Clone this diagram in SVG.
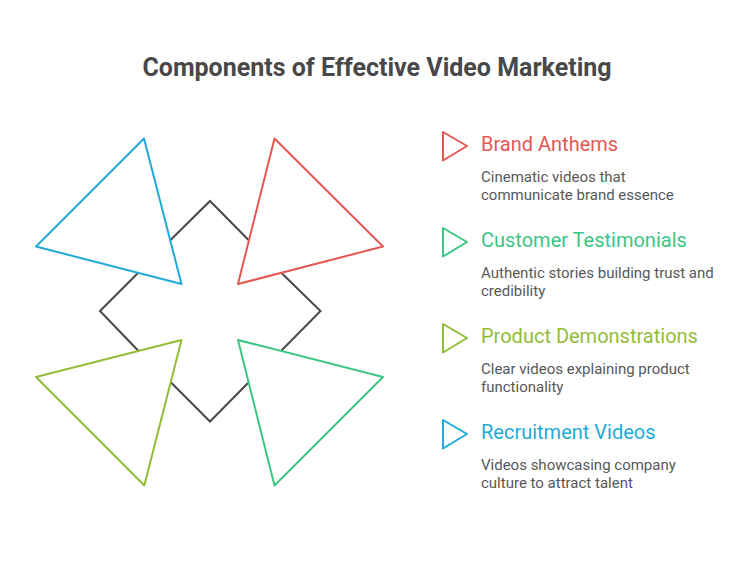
<svg xmlns="http://www.w3.org/2000/svg" width="754" height="564" viewBox="0 0 754 564">
<style>
text{font-family:Roboto,"Liberation Sans",sans-serif}
.t{font-size:20px;font-weight:400}
.d{font-size:15px;fill:#585858}
.tri{fill:none;stroke-width:2;stroke-linejoin:round}
.red{stroke:#e55753}
.grn{stroke:#3cc583}
.olv{stroke:#92bd39}
.blu{stroke:#1eabda}
</style>
<rect width="754" height="564" fill="#fff"/>
<text x="377" y="75.500" text-anchor="middle" font-size="25" font-weight="700" fill="#484848">Components of Effective Video Marketing</text>
<g id="connectors">
<path d="M170 240.500L210 201L248.500 240M281 272.500L320.500 311L281 351M248 383L210 421.500L170.500 382M138.500 351L100 311L138.500 272.500" fill="none" stroke="#484848" stroke-width="2"/>
</g>
<g id="triangle-blue"><path class="tri blu" d="M144 138.500L36 246.500L181.500 284Z"/></g>
<g id="triangle-red"><path class="tri red" d="M274.500 138.500L383 246.500L238 284Z"/></g>
<g id="triangle-olive"><path class="tri olv" d="M36 377L181.500 340L144.300 485.500Z"/></g>
<g id="triangle-green"><path class="tri grn" d="M238 340L383 377L274.500 485.500Z"/></g>
<g id="brand-anthems"><path class="tri red" d="M443 132L467 146L443 160.500Z"/><text class="t" x="481" y="151" fill="#e55753">Brand Anthems</text><text class="d" x="481" y="182">Cinematic videos that</text><text class="d" x="481" y="200">communicate brand essence</text></g>
<g id="customer-testimonials"><path class="tri grn" d="M443 228L467 242L443 256.500Z"/><text class="t" x="481" y="247" fill="#3cc583">Customer Testimonials</text><text class="d" x="481" y="278">Authentic stories building trust and</text><text class="d" x="481" y="296">credibility</text></g>
<g id="product-demonstrations"><path class="tri olv" d="M443 324L467 338L443 352.500Z"/><text class="t" x="481" y="343" fill="#92bd39">Product Demonstrations</text><text class="d" x="481" y="374">Clear videos explaining product</text><text class="d" x="481" y="392">functionality</text></g>
<g id="recruitment-videos"><path class="tri blu" d="M443 420L467 434L443 448.500Z"/><text class="t" x="481" y="439" fill="#1eabda">Recruitment Videos</text><text class="d" x="481" y="470">Videos showcasing company</text><text class="d" x="481" y="488">culture to attract talent</text></g>
</svg>
